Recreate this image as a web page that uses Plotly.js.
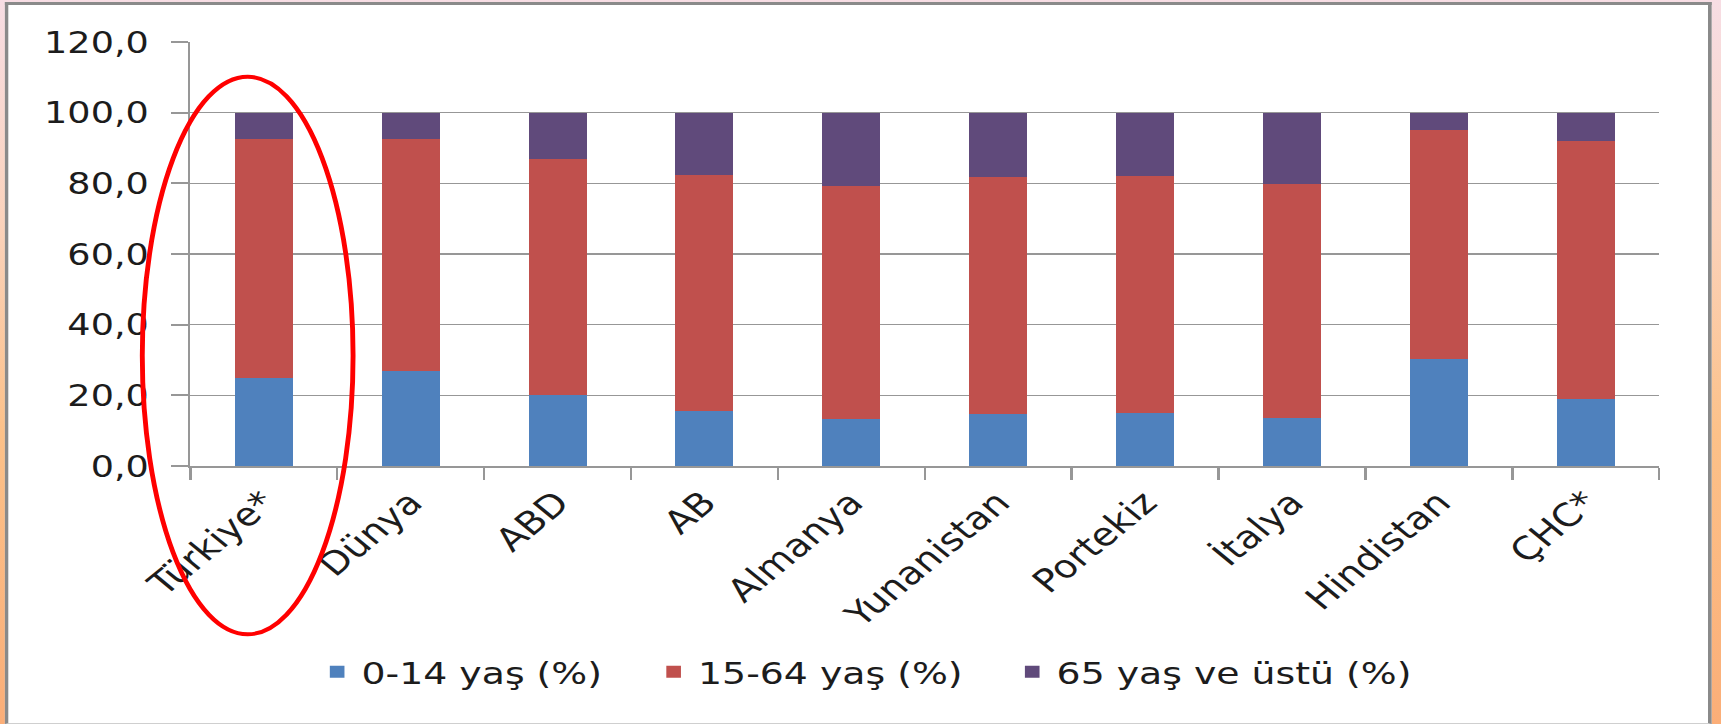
<!DOCTYPE html>
<html>
<head>
<meta charset="utf-8">
<script src="https://cdn.plot.ly/plotly-3.0.1.min.js"></script>
<style>
  html, body { margin: 0; padding: 0; width: 1721px; height: 724px; overflow: hidden;
    background: linear-gradient(to bottom, #f7dde4 0%, #fbd3bd 30%, #fcc189 60%, #fbae78 100%); }
  #wrap { position: absolute; left: 0; top: 0; width: 1411px; height: 724px;
    transform: scaleX(1.22); transform-origin: 0 0; }
  #frame { position: absolute; left: 4.1px; top: 2px; width: 1393px; height: 718px;
    border-left: 3.3px solid #8a8a8a; border-right: 3.3px solid #8a8a8a;
    border-top: 3px solid #8a8a8a; border-bottom: 1px solid #cfcfcf; background: #ffffff; }
  #chart { width: 1393px; height: 718px; }
</style>
</head>
<body>
<div id="wrap"><div id="frame"><div id="chart"></div></div></div>
<script>
// Categories and series (percent of population by age group)
const categories = ['Türkiye*', 'Dünya', 'ABD', 'AB', 'Almanya', 'Yunanistan', 'Portekiz', 'İtalya', 'Hindistan', 'ÇHC*'];
const age0to14   = [25.0, 26.8, 20.0, 15.5, 13.3, 14.7, 15.0, 13.7, 30.4, 19.1];
const age15to64  = [67.5, 65.7, 67.0, 67.0, 66.0, 67.0, 67.1, 66.1, 64.8, 73.0];
const age65plus  = [7.5, 7.5, 13.0, 17.5, 20.7, 18.3, 17.9, 20.2, 4.8, 7.9];
const seriesNames = ['0-14 yaş (%)', '15-64 yaş (%)', '65 yaş ve üstü (%)'];
const yTickValues = [0, 20, 40, 60, 80, 100, 120];

const colors = ['#4f81bd', '#c0504d', '#604a7b'];
const seriesData = [age0to14, age15to64, age65plus];
const legendIds = ['legend', 'legend2', 'legend3'];
const legendX = [0.179, 0.377, 0.588];

const traces = seriesData.map((vals, i) => ({
  type: 'bar',
  x: categories,
  y: vals,
  name: seriesNames[i],
  legend: legendIds[i],
  marker: { color: colors[i], line: { width: 0 } },
  hoverinfo: 'x+y+name'
}));

const font = 'DejaVu Sans, Verdana, sans-serif';
const gridCol = '#979797';

function legendBox(x) {
  return {
    orientation: 'h',
    xref: 'container', yref: 'container',
    x: x, xanchor: 'left',
    y: 0.071, yanchor: 'middle',
    bgcolor: 'rgba(0,0,0,0)',
    font: { family: font, size: 31, color: '#1c1c1c' }
  };
}

const layout = {
  width: 1393,
  height: 718,
  barmode: 'stack',
  bargap: 0.605,
  separators: ',.',
  paper_bgcolor: '#ffffff',
  plot_bgcolor: '#ffffff',
  margin: { l: 149, r: 40, t: 37, b: 257 },
  font: { family: font, color: '#1c1c1c' },
  showlegend: true,
  legend: legendBox(legendX[0]),
  legend2: legendBox(legendX[1]),
  legend3: legendBox(legendX[2]),
  xaxis: {
    type: 'category',
    tickangle: -45,
    tickfont: { family: font, size: 32, color: '#1c1c1c' },
    ticks: 'outside',
    tickson: 'boundaries',
    ticklen: 12,
    tickwidth: 2,
    tickcolor: gridCol,
    showline: true,
    linecolor: gridCol,
    linewidth: 2,
    showgrid: false,
    ticklabelstandoff: 3,
    fixedrange: true
  },
  yaxis: {
    range: [0, 120],
    tickvals: yTickValues,
    tickformat: '.1f',
    tickfont: { family: font, size: 30, color: '#1c1c1c' },
    ticks: 'outside',
    ticklen: 14,
    tickwidth: 2,
    tickcolor: gridCol,
    showline: true,
    linecolor: gridCol,
    linewidth: 2,
    showgrid: true,
    gridcolor: gridCol,
    gridwidth: 1.6,
    zeroline: false,
    ticklabelstandoff: 12,
    fixedrange: true
  },
  shapes: [{
    type: 'circle',
    xref: 'paper', yref: 'paper',
    x0: -0.0327, x1: 0.1108,
    y0: -0.397, y1: 0.918,
    line: { color: '#ff0000', width: 4 },
    layer: 'above'
  }]
};

Plotly.newPlot('chart', traces, layout, { displayModeBar: false, staticPlot: true });
</script>
</body>
</html>
